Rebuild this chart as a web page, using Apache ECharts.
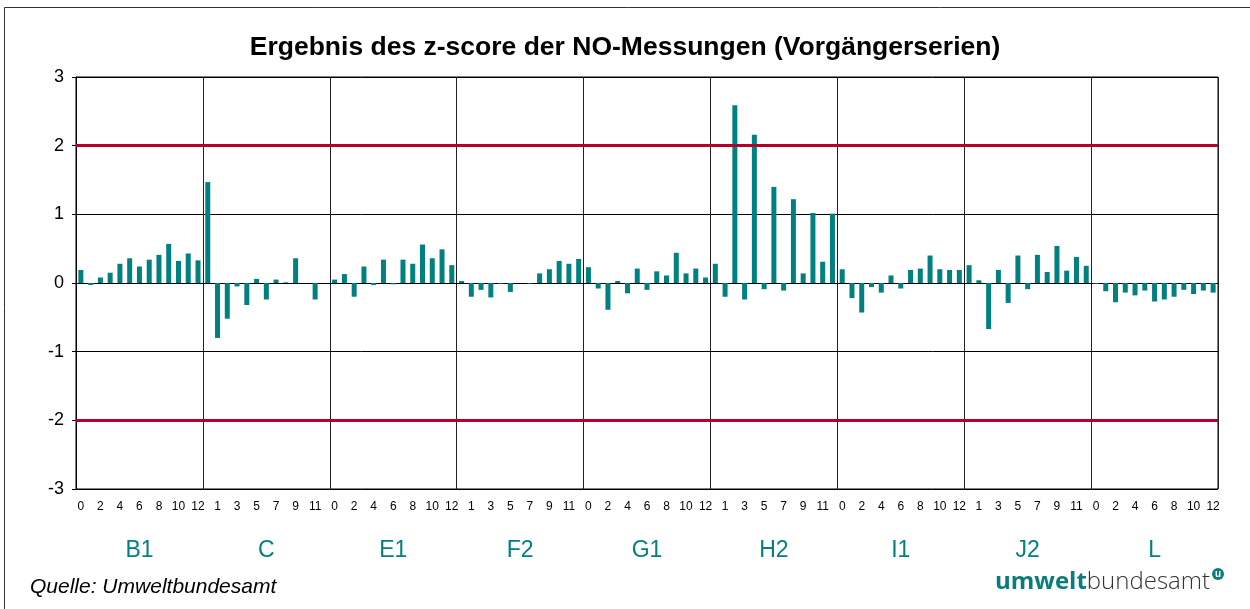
<!DOCTYPE html>
<html>
<head>
<meta charset="utf-8">
<title>z-score NO-Messungen</title>
<script src="https://cdn.jsdelivr.net/npm/echarts@6/dist/echarts.min.js"></script>
<style>
  html, body { margin: 0; padding: 0; background: #fff; }
  #chart { width: 1250px; height: 609px; }
</style>
</head>
<body>
<div id="chart"></div>
<script>
// Stationen (Gruppen) und Messungen 0..12 je Station
const groups = ['B1', 'C', 'E1', 'F2', 'G1', 'H2', 'I1', 'J2', 'L'];
const runs = ['0','1','2','3','4','5','6','7','8','9','10','11','12'];

// z-score Werte je Station
const b1 = [0.19, -0.03, 0.08, 0.15, 0.28, 0.36, 0.24, 0.34, 0.41, 0.57, 0.32, 0.43, 0.33];
const c  = [1.47, -0.80, -0.52, -0.05, -0.32, 0.06, -0.24, 0.05, 0.01, 0.36, 0, -0.24, 0];
const e1 = [0.05, 0.13, -0.20, 0.24, -0.03, 0.34, -0.02, 0.34, 0.28, 0.56, 0.36, 0.49, 0.26];
const f2 = [0.03, -0.20, -0.10, -0.21, -0.01, -0.13, 0, -0.01, 0.14, 0.20, 0.32, 0.28, 0.35];
const g1 = [0.23, -0.08, -0.39, 0.03, -0.15, 0.21, -0.10, 0.17, 0.11, 0.44, 0.14, 0.21, 0.08];
const h2 = [0.28, -0.20, 2.59, -0.24, 2.16, -0.09, 1.40, -0.11, 1.22, 0.14, 1.02, 0.31, 1.01];
const i1 = [0.20, -0.22, -0.43, -0.06, -0.14, 0.11, -0.08, 0.19, 0.21, 0.40, 0.20, 0.19, 0.19];
const j2 = [0.26, 0.04, -0.67, 0.19, -0.29, 0.40, -0.09, 0.41, 0.16, 0.54, 0.18, 0.38, 0.25];
const l  = [-0.01, -0.12, -0.28, -0.14, -0.18, -0.11, -0.27, -0.24, -0.20, -0.10, -0.16, -0.11, -0.14];

const limits = [2, -2];

const allValues = [].concat(b1, c, e1, f2, g1, h2, i1, j2, l);
let categories = [];
groups.forEach(function () { categories = categories.concat(runs); });

const font = 'Arial, "Liberation Sans", sans-serif';
const teal = '#008080';

const chart = echarts.init(document.getElementById('chart'), null, { renderer: 'canvas' });

const option = {
    animation: false,
    backgroundColor: '#fff',
    title: {
        text: 'Ergebnis des z-score der NO-Messungen (Vorgängerserien)',
        left: 'center',
        top: 29,
        textStyle: { fontFamily: font, fontSize: 26.5, fontWeight: 'bold', color: '#000' }
    },
    grid: {
        left: 76, right: 32, top: 77, bottom: 120,
        show: true, borderColor: '#000', borderWidth: 1
    },
    xAxis: [
        {
            type: 'category',
            data: categories,
            axisLine: { lineStyle: { color: '#000', width: 1 } },
            axisTick: { show: false },
            axisLabel: { interval: 1, margin: 12, fontFamily: font, fontSize: 12, color: '#000' },
            splitLine: {
                show: true,
                interval: function (index) { return index % 13 === 0; },
                lineStyle: { color: '#222', width: 1 }
            }
        },
        {
            type: 'category',
            data: groups,
            position: 'bottom',
            offset: 42,
            axisLine: { show: false },
            axisTick: { show: false },
            splitLine: { show: false },
            axisLabel: { margin: 8, fontFamily: font, fontSize: 23, color: teal }
        }
    ],
    yAxis: {
        type: 'value',
        min: -3,
        max: 3,
        interval: 1,
        axisLine: { show: true, lineStyle: { color: '#000' } },
        axisTick: { show: true, length: 4, lineStyle: { color: '#000' } },
        axisLabel: { margin: 12, fontFamily: font, fontSize: 18, color: '#000' },
        splitLine: { lineStyle: { color: '#000', width: 1 } }
    },
    series: [
        {
            name: 'z-score',
            type: 'bar',
            xAxisIndex: 0,
            barWidth: 5,
            itemStyle: { color: teal },
            data: allValues,
            markLine: {
                silent: true,
                symbol: ['none', 'none'],
                label: { show: false },
                lineStyle: { color: '#b5002a', width: 3, type: 'solid' },
                data: limits.map(function (v) { return { yAxis: v }; })
            }
        }
    ],
    graphic: [
        {
            type: 'rect',
            shape: { x: 4.5, y: 7.5, width: 1400, height: 800 },
            style: { fill: 'none', stroke: '#333', lineWidth: 1 },
            silent: true
        },
        {
            type: 'text',
            left: 30,
            top: 577,
            style: {
                text: 'Quelle: Umweltbundesamt',
                fontFamily: font, fontSize: 21, fontStyle: 'italic', fill: '#000'
            }
        },
        {
            type: 'text',
            left: 995,
            top: 570,
            style: {
                text: '{a|umwelt}{b|bundesamt}',
                rich: {
                    a: { fontFamily: '"Open Sans", sans-serif', fontSize: 24, fontWeight: 'bold', fill: '#0a7d7b', color: '#0a7d7b' },
                    b: { fontFamily: '"Open Sans", sans-serif', fontSize: 24, fontWeight: 300, fill: '#333', color: '#333' }
                }
            }
        },
        {
            type: 'circle',
            shape: { cx: 1218, cy: 574, r: 6 },
            style: { fill: '#0a7d7b' }
        },
        {
            type: 'text',
            x: 1218, y: 574,
            style: {
                text: 'u', fontFamily: font, fontSize: 10, fontWeight: 'bold',
                fill: '#fff', align: 'center', verticalAlign: 'middle'
            }
        }
    ]
};

chart.setOption(option);
</script>
</body>
</html>
